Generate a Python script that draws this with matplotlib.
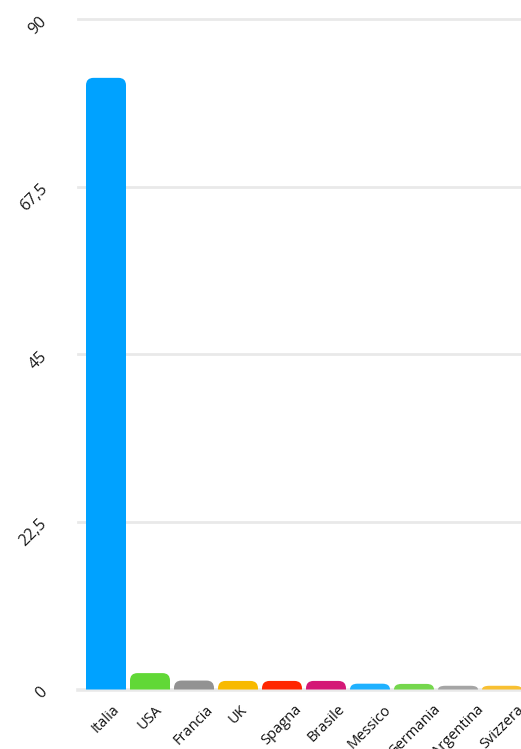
import matplotlib
matplotlib.use("Agg")
import matplotlib.pyplot as plt
from matplotlib.path import Path
from matplotlib.patches import PathPatch

categories = ["Italia", "USA", "Francia", "UK", "Spagna", "Brasile", "Messico", "Germania", "Argentina", "Svizzera"]
values = [82.1, 2.2, 1.2, 1.15, 1.15, 1.15, 0.78, 0.75, 0.5, 0.5]
colors = ["#00A2FF", "#61D836", "#929292", "#F8BA00", "#FF2600", "#D41876", "#1FB1FF", "#75D74D", "#A5A5A5", "#F8C032"]
yticks = [0, 22.5, 45, 67.5, 90]
ytick_labels = ["0", "22,5", "45", "67,5", "90"]

plt.rcParams["font.family"] = ["Open Sans", "DejaVu Sans"]

W, H = 521, 749
fig = plt.figure(figsize=(W / 100, H / 100), dpi=100)
ax_left, ax_bottom, ax_top = 78, 689.5, 19
ax = fig.add_axes([ax_left / W, (H - ax_bottom) / H, (W - ax_left) / W, (ax_bottom - ax_top) / H])

pitch_px = 44.0
first_center_px = 106.0
xl = -0.5 - (first_center_px - pitch_px / 2 - ax_left) / pitch_px
xr = (W - first_center_px) / pitch_px
ax.set_xlim(xl, xr)
ax.set_ylim(0, 90)

bar_w = 40 / pitch_px
px_per_y = (ax_bottom - ax_top) / 90.0
rx = 7.5 / pitch_px
ry_full = 7.5 / px_per_y


def rounded_bar(x, h, color):
    x0, x1 = x - bar_w / 2, x + bar_w / 2
    ry = min(ry_full, h)
    verts = [(x0, 0), (x0, h - ry), (x0, h), (x0 + rx, h),
             (x1 - rx, h), (x1, h), (x1, h - ry), (x1, 0), (x0, 0)]
    codes = [Path.MOVETO, Path.LINETO, Path.CURVE3, Path.CURVE3,
             Path.LINETO, Path.CURVE3, Path.CURVE3, Path.LINETO, Path.CLOSEPOLY]
    ax.add_patch(PathPatch(Path(verts, codes), facecolor=color, edgecolor="none", zorder=3))


for i, (v, c) in enumerate(zip(values, colors)):
    rounded_bar(i, v, c)

for t in yticks:
    ax.axhline(t, color="#E9E9E9", lw=2.0 if t else 2.6, zorder=1, clip_on=False)

for s in ax.spines.values():
    s.set_visible(False)
ax.set_yticks(yticks)
ax.set_yticklabels(ytick_labels, rotation=45, fontsize=11.5, color="#1a1a1a", ha="right", va="center",
                   rotation_mode="anchor")
ax.set_xticks(range(len(categories)))
ax.set_xticklabels(categories, rotation=45, fontsize=10.5, color="#111111", ha="center", va="top")
ax.tick_params(axis="both", length=0)
ax.tick_params(axis="y", pad=24)
ax.tick_params(axis="x", pad=9)
for lbl in ax.get_xticklabels():
    lbl.set_clip_on(False)

fig.savefig("out.png", dpi=100)
